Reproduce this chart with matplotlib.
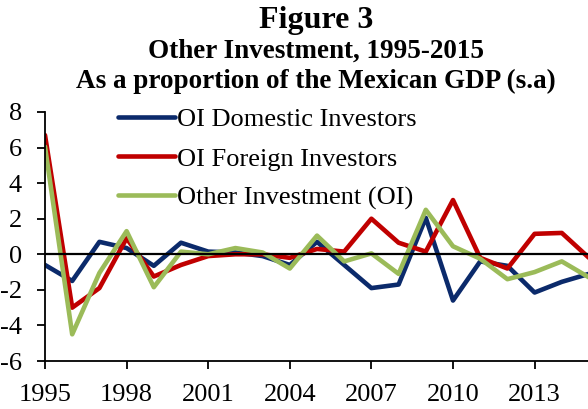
import matplotlib
matplotlib.use("Agg")
import matplotlib.pyplot as plt

years = list(range(1995, 2016))
domestic = [-0.6, -1.5, 0.7, 0.35, -0.65, 0.65, 0.15, 0.1, -0.1, -0.6, 0.7,
            -0.6, -1.9, -1.7, 2.05, -2.6, -0.4, -0.65, -2.15, -1.55, -1.1]
foreign = [6.7, -3.0, -1.9, 0.9, -1.25, -0.6, -0.1, 0.0, 0.0, -0.2, 0.3,
           0.15, 2.0, 0.65, 0.15, 3.05, -0.2, -0.8, 1.15, 1.2, -0.2]
total = [6.05, -4.5, -1.05, 1.3, -1.85, 0.15, 0.0, 0.35, 0.1, -0.8, 1.05,
         -0.4, 0.05, -1.1, 2.5, 0.45, -0.25, -1.4, -1.0, -0.4, -1.3]
labels = ["OI Domestic Investors", "OI Foreign Investors", "Other Investment (OI)"]
xticks = [1995, 1998, 2001, 2004, 2007, 2010, 2013]
yticks = [-6, -4, -2, 0, 2, 4, 6, 8]

plt.rcParams["font.family"] = ["Liberation Serif", "DejaVu Serif"]
plt.rcParams["axes.unicode_minus"] = False

fig = plt.figure(figsize=(5.88, 4.09), dpi=100)
ax = fig.add_axes([45 / 588, 48 / 409, 544 / 588, 249 / 409])

ax.plot(years, domestic, color="#0b2a6b", lw=3.3, label=labels[0], solid_capstyle="round")
ax.plot(years, foreign, color="#c00000", lw=3.3, label=labels[1], solid_capstyle="round")
ax.plot(years, total, color="#9bbb59", lw=3.3, label=labels[2], solid_capstyle="round")
ax.axhline(0, color="black", lw=1.6, zorder=5)

ax.set_xlim(1995, 2015)
ax.set_ylim(-6, 8)
ax.set_xticks(xticks)
ax.set_yticks(yticks)
ax.tick_params(direction="out", length=5.5, width=1.3, labelsize=19)
ax.tick_params(axis="x", pad=11)
ax.tick_params(axis="y", pad=11)
ax.spines["top"].set_visible(False)
ax.spines["right"].set_visible(False)
ax.spines["left"].set_linewidth(1.3)
ax.spines["bottom"].set_linewidth(1.3)

ax.legend(loc="upper left", bbox_to_anchor=(118 / 588, 1 - 108 / 409),
          bbox_transform=fig.transFigure, frameon=False, fontsize=19,
          handlelength=2.15, handletextpad=0.1, labelspacing=0.59,
          borderpad=0, borderaxespad=0)

fig.text(316 / 588, 1 - 28 / 409, "Figure 3", ha="center", va="baseline",
         fontsize=23, fontweight="bold")
fig.text(316 / 588, 1 - 58 / 409, "Other Investment, 1995-2015", ha="center",
         va="baseline", fontsize=19.5, fontweight="bold")
fig.text(316 / 588, 1 - 88 / 409, "As a proportion of the Mexican GDP (s.a)",
         ha="center", va="baseline", fontsize=19.5, fontweight="bold")

fig.savefig("out.png", dpi=100)
